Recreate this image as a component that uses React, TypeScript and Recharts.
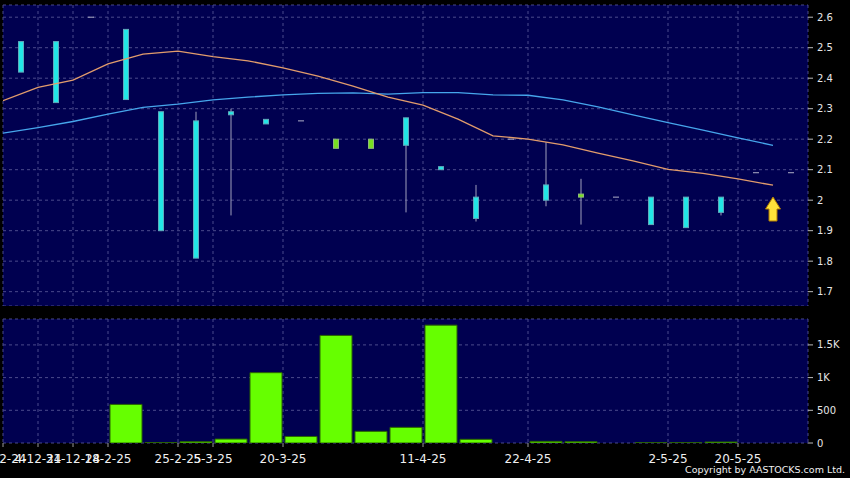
import React from 'react';
import { ComposedChart, Bar, Line, XAxis, YAxis, CartesianGrid, ReferenceDot } from 'recharts';

// ---- data ----
const slotIndex = [0, 1, 2, 3, 4, 5, 6, 7, 8, 9, 10, 11, 12, 13, 14, 15, 16, 17, 18, 19, 20, 21, 22];
const openP = [2.52, 2.52, 2.6, 2.56, 2.29, 2.26, 2.29, 2.265, 2.26, 2.17, 2.17, 2.27, 2.11, 2.01, 2.2, 2.05, 2.01, 2.01, 2.01, 2.01, 2.01, 2.09, 2.09];
const closeP = [2.42, 2.32, 2.6, 2.33, 1.9, 1.81, 2.28, 2.25, 2.26, 2.2, 2.2, 2.18, 2.1, 1.94, 2.2, 2.0, 2.02, 2.01, 1.92, 1.91, 1.96, 2.09, 2.09];
const highP = [2.52, 2.52, 2.6, 2.56, 2.29, 2.29, 2.3, 2.265, 2.26, 2.2, 2.2, 2.27, 2.11, 2.05, 2.2, 2.19, 2.07, 2.01, 2.01, 2.01, 2.01, 2.09, 2.09];
const lowP = [2.42, 2.32, 2.6, 2.33, 1.9, 1.81, 1.95, 2.25, 2.26, 2.17, 2.17, 1.96, 2.1, 1.93, 2.2, 1.98, 1.92, 2.01, 1.92, 1.91, 1.95, 2.09, 2.09];
const volume = [0, 0, 0, 590, 5, 20, 60, 1075, 100, 1645, 178, 239, 1802, 56, 0, 25, 20, 0, 3, 3, 15, 0, 0];
const maShort = [2.326, 2.37, 2.394, 2.447, 2.479, 2.489, 2.471, 2.457, 2.434, 2.407, 2.374, 2.338, 2.312, 2.266, 2.211, 2.2, 2.181, 2.154, 2.129, 2.101, 2.088, 2.07, 2.049];
const maLong = [2.22, 2.238, 2.258, 2.282, 2.304, 2.315, 2.329, 2.338, 2.345, 2.35, 2.352, 2.348, 2.353, 2.353, 2.345, 2.344, 2.329, 2.306, 2.28, 2.254, 2.23, 2.204, 2.18];
const tickSlots = [0, 1, 2, 3, 5, 6, 8, 12, 15, 19, 21];
const tickLabels = ['2-12-24', '4-12-24', '31-12-24', '18-2-25', '25-2-25', '5-3-25', '20-3-25', '11-4-25', '22-4-25', '2-5-25', '20-5-25'];
const priceTicks = [1.7, 1.8, 1.9, 2.0, 2.1, 2.2, 2.3, 2.4, 2.5, 2.6];
const volumeTicks = [0, 500, 1000, 1500];
const arrowSlot = 22;
const arrowPrice = 1.971;

const rows = slotIndex.map((s, i) => ({
  idx: s,
  range: [lowP[i], highP[i]],
  open: openP[i],
  close: closeP[i],
  high: highP[i],
  low: lowP[i],
  vol: volume[i],
  maS: maShort[i],
  maL: maLong[i],
}));

const BG = '#000050';
const GRID = '#4a4a8c';
const FONT = "'DejaVu Sans', Verdana, sans-serif";

const Candle = (props: any) => {
  const { x, y, width, height, payload } = props;
  if (!payload || x == null || y == null) return null;
  const { open, close, high, low } = payload;
  const top = height >= 0 ? y : y + height;
  const h = Math.abs(height || 0);
  const span = high - low;
  const py = (v: number) => (span > 0 ? top + ((high - v) / span) * h : top);
  const cx = x + width / 2;
  if (open === close) {
    const yy = py(open);
    return (
      <g>
        {span > 0 && <line x1={cx} x2={cx} y1={top} y2={top + h} stroke="#a0a0bc" strokeWidth={1} />}
        <line x1={x} x2={x + width} y1={yy} y2={yy} stroke="#b0b0c8" strokeWidth={1} />
      </g>
    );
  }
  const up = close > open;
  const bTop = py(Math.max(open, close));
  const bBot = py(Math.min(open, close));
  return (
    <g>
      {span > 0 && <line x1={cx} x2={cx} y1={top} y2={top + h} stroke="#a0a0bc" strokeWidth={1} />}
      <rect
        x={x + 0.5}
        y={bTop}
        width={width - 1}
        height={Math.max(bBot - bTop, 2)}
        fill={up ? '#78e020' : '#22e6e6'}
        stroke={up ? '#8fb87a' : '#5fa9bb'}
        strokeWidth={1}
      />
    </g>
  );
};

const Arrow = (props: any) => {
  const { cx, cy } = props;
  if (cx == null || cy == null) return null;
  const d = `M${cx},${cy - 12} L${cx + 7.5},${cy} L${cx + 4},${cy} L${cx + 4},${cy + 12} L${cx - 4},${cy + 12} L${cx - 4},${cy} L${cx - 7.5},${cy} Z`;
  return <path d={d} fill="#ffe23a" stroke="#b07a00" strokeWidth={1} />;
};

const fmtPrice = (v: number) => String(Math.round(v * 10) / 10);
const fmtVol = (v: number) => (v >= 1000 ? `${v / 1000}K` : String(v));
const fmtDate = (v: number) => {
  const i = tickSlots.indexOf(v);
  return i >= 0 ? tickLabels[i] : '';
};

const DateTick = (props: any) => {
  const { x, y, payload } = props;
  return (
    <text x={x} y={y} dy="0.71em" textAnchor="middle" fill="#f0f0f0" fontSize={12} fontFamily={FONT}>
      {fmtDate(payload.value)}
    </text>
  );
};

export default function App() {
  return (
    <div
      style={{
        position: 'absolute',
        left: 0,
        top: 0,
        width: 850,
        height: 478,
        background: '#000',
        overflow: 'hidden',
        fontFamily: FONT,
      }}
    >
      <div style={{ position: 'absolute', left: 0, top: 0 }}>
        <ComposedChart width={850} height={306} data={rows} margin={{ top: 5, right: 0, bottom: 0, left: 3 }}>
          <CartesianGrid xAxisId="num" stroke={GRID} strokeDasharray="3 3" fill={BG} fillOpacity={1} />
          <XAxis xAxisId="num" dataKey="idx" type="number" domain={[0, 23]} ticks={tickSlots} interval={0} hide height={0} allowDataOverflow />
          <XAxis xAxisId="cat" dataKey="idx" type="category" hide height={0} />
          <YAxis
            orientation="right"
            width={42}
            domain={[1.653, 2.64]}
            ticks={priceTicks}
            interval={0}
            allowDataOverflow
            axisLine={false}
            tickLine={{ stroke: '#bbbbbb' }}
            tickSize={5}
            tickMargin={4}
            tick={{ fill: '#e6e6e6', fontSize: 10, fontFamily: FONT }}
            tickFormatter={fmtPrice}
          />
          <Bar xAxisId="cat" dataKey="range" barSize={6} isAnimationActive={false} shape={(p: any) => <Candle {...p} />} />
          <Line xAxisId="num" dataKey="maL" stroke="#46a6ec" strokeWidth={1.3} dot={false} isAnimationActive={false} />
          <Line xAxisId="num" dataKey="maS" stroke="#e29c6c" strokeWidth={1.3} dot={false} isAnimationActive={false} />
          <ReferenceDot xAxisId="num" x={arrowSlot} y={arrowPrice} shape={(p: any) => <Arrow {...p} />} />
        </ComposedChart>
      </div>
      <div style={{ position: 'absolute', left: 0, top: 306 }}>
        <ComposedChart width={850} height={172} data={rows} margin={{ top: 13, right: 0, bottom: 15, left: 3 }}>
          <CartesianGrid xAxisId="num" stroke={GRID} strokeDasharray="3 3" fill={BG} fillOpacity={1} />
          <XAxis
            xAxisId="num"
            dataKey="idx"
            type="number"
            domain={[0, 23]}
            ticks={tickSlots}
            interval={0}
            allowDataOverflow
            height={20}
            axisLine={false}
            tickLine={{ stroke: '#999999' }}
            tickSize={4}
            tickMargin={7}
            tick={(p: any) => <DateTick {...p} />}
          />
          <XAxis xAxisId="cat" dataKey="idx" type="category" hide height={0} />
          <YAxis
            orientation="right"
            width={42}
            domain={[0, 1896]}
            ticks={volumeTicks}
            interval={0}
            allowDataOverflow
            axisLine={false}
            tickLine={{ stroke: '#bbbbbb' }}
            tickSize={5}
            tickMargin={4}
            tick={{ fill: '#e6e6e6', fontSize: 10, fontFamily: FONT }}
            tickFormatter={fmtVol}
          />
          <Bar xAxisId="cat" dataKey="vol" barSize={32} fill="#66ff00" stroke="#2a6400" strokeWidth={1} isAnimationActive={false} />
        </ComposedChart>
      </div>
      <div
        style={{
          position: 'absolute',
          right: 5,
          top: 464,
          color: '#f0f0f0',
          fontSize: 9.5,
          fontFamily: FONT,
          lineHeight: '12px',
          whiteSpace: 'nowrap',
        }}
      >
        Copyright by AASTOCKS.com Ltd.
      </div>
    </div>
  );
}
